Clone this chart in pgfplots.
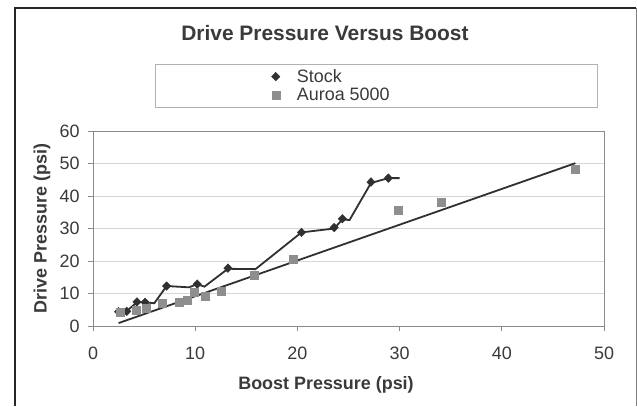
\documentclass[border=0pt]{standalone}
\usepackage{pgfplots}
\pgfplotsset{compat=1.18}
\usepackage{fontspec}
\setmainfont{Liberation Sans}
\definecolor{stockc}{HTML}{303030}
\definecolor{auroac}{HTML}{8E8E8E}
\definecolor{gridc}{HTML}{D6D6D6}
\definecolor{axc}{HTML}{8A8A8A}
\definecolor{txt}{HTML}{3A3A3A}
\begin{document}
\begin{tikzpicture}[x=1bp,y=1bp]
\useasboundingbox (0,0) rectangle (637,406);
\fill[white] (0,0) rectangle (637,406);
\draw[line width=2bp, color=black!85] (15,0) -- (15,397.5) -- (636,397.5);
\draw[line width=1bp, color=gray] (636,397.5) -- (636,0);
\draw[gray!60, line width=0.8bp] (155,299) rectangle (597,342);
\begin{axis}[
 scale only axis, width=511bp, height=195bp,
 at={(93bp,80bp)}, anchor=south west,
 xmin=0, xmax=50, ymin=0, ymax=60,
 xtick={0,10,...,50}, ytick={0,10,...,60},
 ymajorgrids, major grid style={gridc, line width=1bp},
 axis line style={axc, line width=1bp},
 tick align=outside, major tick length=5bp, tick style={axc, line width=1bp},
 tick pos=left,
 ticklabel style={font=\fontsize{18}{20}\selectfont, text=txt},
 xticklabel style={yshift=-12bp},
 yticklabel style={xshift=-5bp},
 /pgf/number format/assume math mode=true,
 label style={font=\fontsize{18}{20}\selectfont\bfseries, text=txt},
 xlabel={Boost Pressure (psi)},
 ylabel={Drive Pressure (psi)},
 xlabel style={at={(axis description cs:0.456,-0.303)}, anchor=center},
 ylabel style={at={(axis description cs:-0.1,0.5)}, anchor=center},
 title={Drive Pressure Versus Boost},
 title style={at={(axis description cs:0.454,1.47)}, anchor=center, font=\fontsize{21}{24}\selectfont\bfseries, text=txt},
 legend style={at={(axis description cs:0.349,1.233)}, anchor=west, draw=none, fill=none, font=\fontsize{18}{18}\selectfont, text=txt, row sep=0bp, column sep=15bp, inner sep=0pt},
 legend cell align=left,
]
\addplot[stockc, line width=1.8bp, forget plot] coordinates {
(2.5,4.3)(3.3,4.6)(4.3,7.3)(5.1,7.3)(6.0,7.0)(7.2,12.3)(9.4,11.9)(10.2,12.9)(10.9,12.1)(13.2,17.6)(15.9,17.5)(20.4,28.8)(23.6,30.0)(24.4,32.8)(25.1,32.6)(27.2,44.0)(28.9,45.5)(30.0,45.5)};
\addplot[only marks, mark=diamond*, mark size=4.3bp, mark options={xscale=1.3}, color=stockc] coordinates {
(2.5,4.4)(3.3,4.5)(4.3,7.4)(5.1,7.3)(7.2,12.3)(10.2,12.9)(13.2,17.8)(20.4,28.8)(23.6,30.3)(24.4,33.0)(27.2,44.3)(28.9,45.5)};
\addlegendentry{Stock}
\addplot[only marks, mark=square*, mark size=4bp, color=auroac] coordinates {
(2.7,4.2)(4.2,5.0)(5.2,5.5)(6.8,7.0)(8.4,7.3)(9.2,7.8)(9.9,10.5)(11.0,9.3)(12.5,10.8)(15.8,15.5)(19.6,20.7)(29.9,35.6)(34.1,38.0)(47.2,48.2)};
\addlegendentry{Auroa 5000}
\addplot[stockc, line width=1.8bp, forget plot] coordinates {(2.5,0.9)(47.2,50.1)};
\end{axis}
\end{tikzpicture}
\end{document}
